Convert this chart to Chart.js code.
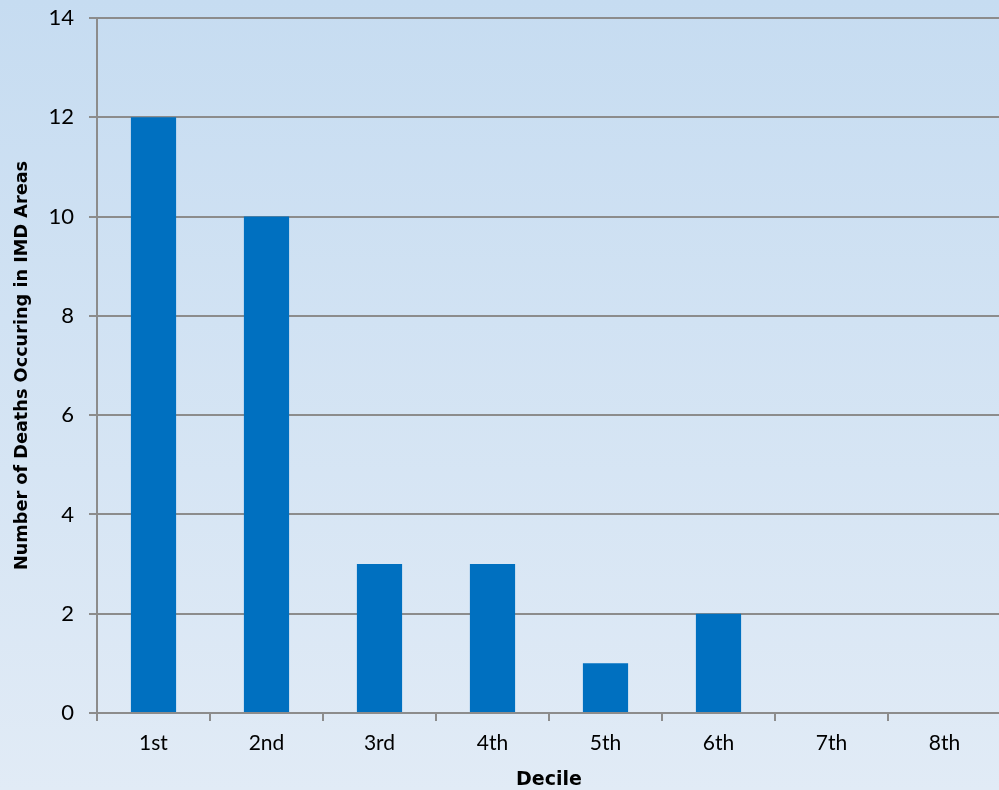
<!DOCTYPE html>
<html>
<head>
<meta charset="utf-8">
<script src="https://cdn.jsdelivr.net/npm/chart.js@4"></script>
<style>
  html, body { margin: 0; padding: 0; overflow: hidden; }
  body { width: 999px; height: 790px; background: linear-gradient(to bottom, #c6dcf1 0%, #e1ebf6 100%); }
  #wrap { width: 1001px; height: 790px; }
</style>
</head>
<body>
<div id="wrap"><canvas id="grafico"></canvas></div>
<script>
const deciles = ['1st', '2nd', '3rd', '4th', '5th', '6th', '7th', '8th'];
const mortes = [12, 10, 3, 3, 1, 2, 0, 0];
const yMax = 14;
const yStep = 2;

const ctx = document.getElementById('grafico').getContext('2d');
const cinza = '#8c8c8c';
const fonte = 'Lato, "Open Sans", sans-serif';
const fonteTitulo = '"DejaVu Sans", sans-serif';

new Chart(ctx, {
    type: 'bar',
    data: {
        labels: deciles,
        datasets: [{
            label: 'Deaths',
            data: mortes,
            backgroundColor: '#0070c0',
            borderWidth: 0,
            barPercentage: 0.4,
            categoryPercentage: 1
        }]
    },
    options: {
        responsive: true,
        maintainAspectRatio: false,
        animation: false,
        plugins: {
            legend: { display: false },
            tooltip: { enabled: false }
        },
        layout: {
            padding: { left: 0, right: 0, top: 18, bottom: 0 }
        },
        scales: {
            x: {
                grid: { drawOnChartArea: false, offset: true, color: cinza, lineWidth: 2, tickLength: 8 },
                border: { color: cinza, width: 2 },
                ticks: { color: '#000', font: { family: fonte, size: 21 }, padding: 10 },
                title: { display: true, text: 'Decile', color: '#000', font: { family: fonteTitulo, size: 19, weight: 'bold', lineHeight: 1 }, padding: { top: 0, bottom: 0 } },
                afterFit: (scale) => { scale.height = 77; }
            },
            y: {
                min: 0,
                max: yMax,
                ticks: { stepSize: yStep, color: '#000', font: { family: fonte, size: 22 }, padding: 15 },
                grid: { color: cinza, lineWidth: 2, tickLength: 8 },
                border: { color: cinza, width: 2 },
                title: { display: true, text: 'Number of Deaths Occuring in IMD Areas', color: '#000', font: { family: fonteTitulo, size: 17.7, weight: 'bold' }, padding: { top: 12, bottom: 0 } },
                afterFit: (scale) => {
                    scale.width = 97;
                    scale.paddingTop = 0;
                    scale.paddingBottom = 0;
                }
            }
        }
    }
});
</script>
</body>
</html>
